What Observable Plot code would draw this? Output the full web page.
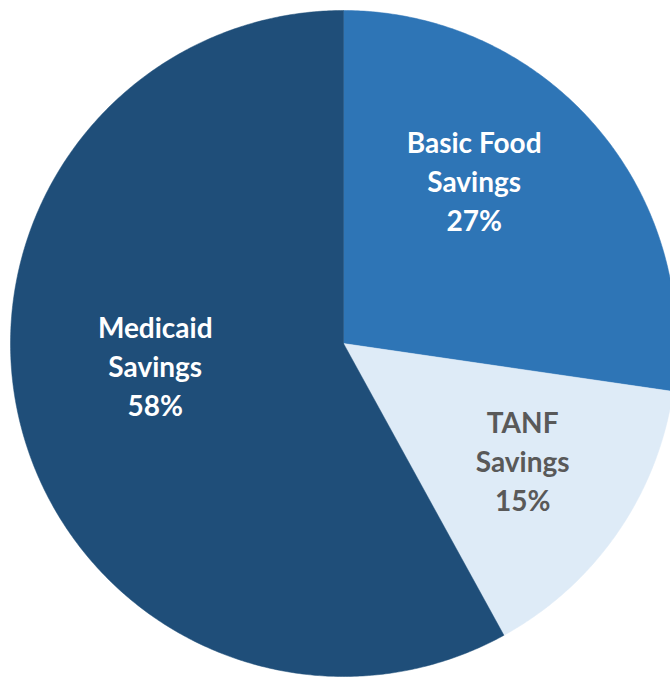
<!DOCTYPE html>
<html>
<head>
<meta charset="utf-8">
<script src="https://cdn.jsdelivr.net/npm/d3@7"></script>
<script src="https://cdn.jsdelivr.net/npm/@observablehq/plot@0.6"></script>
<style>
  html, body { margin: 0; padding: 0; background: #fff; overflow: hidden; }
  #chart svg { display: block; }
</style>
</head>
<body>
<div id="chart"></div>
<script>
const categories = ["Basic Food Savings", "TANF Savings", "Medicaid Savings"];
const values = [27.3, 14.7, 58.0];
const labelLines = ["Basic Food\nSavings", "TANF\nSavings", "Medicaid\nSavings"];
const colors = ["#2E75B6", "#DEEBF7", "#1F4E79"];
const textColors = ["#FFFFFF", "#595959", "#FFFFFF"];

const total = d3.sum(values);
const polys = [];
const labels = [];
let acc = 0;
// label placement tweaks (radius fraction and angle shift in fractions of full turn)
const labelR = [0.63, 0.641, 0.569];
const labelShift = [-0.0295, -0.005, 0.022];
values.forEach((v, i) => {
  const a0 = acc / total, a1 = (acc + v) / total;
  const steps = Math.max(4, Math.ceil((a1 - a0) * 720));
  polys.push({cat: categories[i], x: 0, y: 0, i});
  for (let k = 0; k <= steps; k++) {
    const t = (a0 + (a1 - a0) * k / steps) * 2 * Math.PI;
    polys.push({cat: categories[i], x: Math.sin(t), y: Math.cos(t), i});
  }
  polys.push({cat: categories[i], x: 0, y: 0, i});
  const m = ((a0 + a1) / 2 + labelShift[i]) * 2 * Math.PI;
  labels.push({
    cat: categories[i],
    text: labelLines[i] + "\n" + Math.round(v) + "%",
    x: Math.sin(m) * labelR[i],
    y: Math.cos(m) * labelR[i],
    i
  });
  acc += v;
});

const chart = Plot.plot({
  width: 670,
  height: 677,
  margin: 0,
  x: {domain: [-1, 1], range: [10, 676], axis: null},
  y: {domain: [-1, 1], range: [676, 10], axis: null},
  style: {background: "#fff", overflow: "hidden"},
  marks: [
    Plot.line(polys, {
      x: "x", y: "y", z: "cat",
      fill: d => colors[d.i],
      stroke: d => colors[d.i],
      strokeWidth: 0.5,
      curve: "linear"
    }),
    Plot.text(labels, {
      x: "x", y: "y", text: "text",
      fill: d => textColors[d.i],
      fontSize: 28,
      fontWeight: "bold",
      fontFamily: "Lato, 'Open Sans', sans-serif",
      lineHeight: 1.39,
      textAnchor: "middle"
    })
  ]
});
document.getElementById("chart").appendChild(chart);
</script>
</body>
</html>
